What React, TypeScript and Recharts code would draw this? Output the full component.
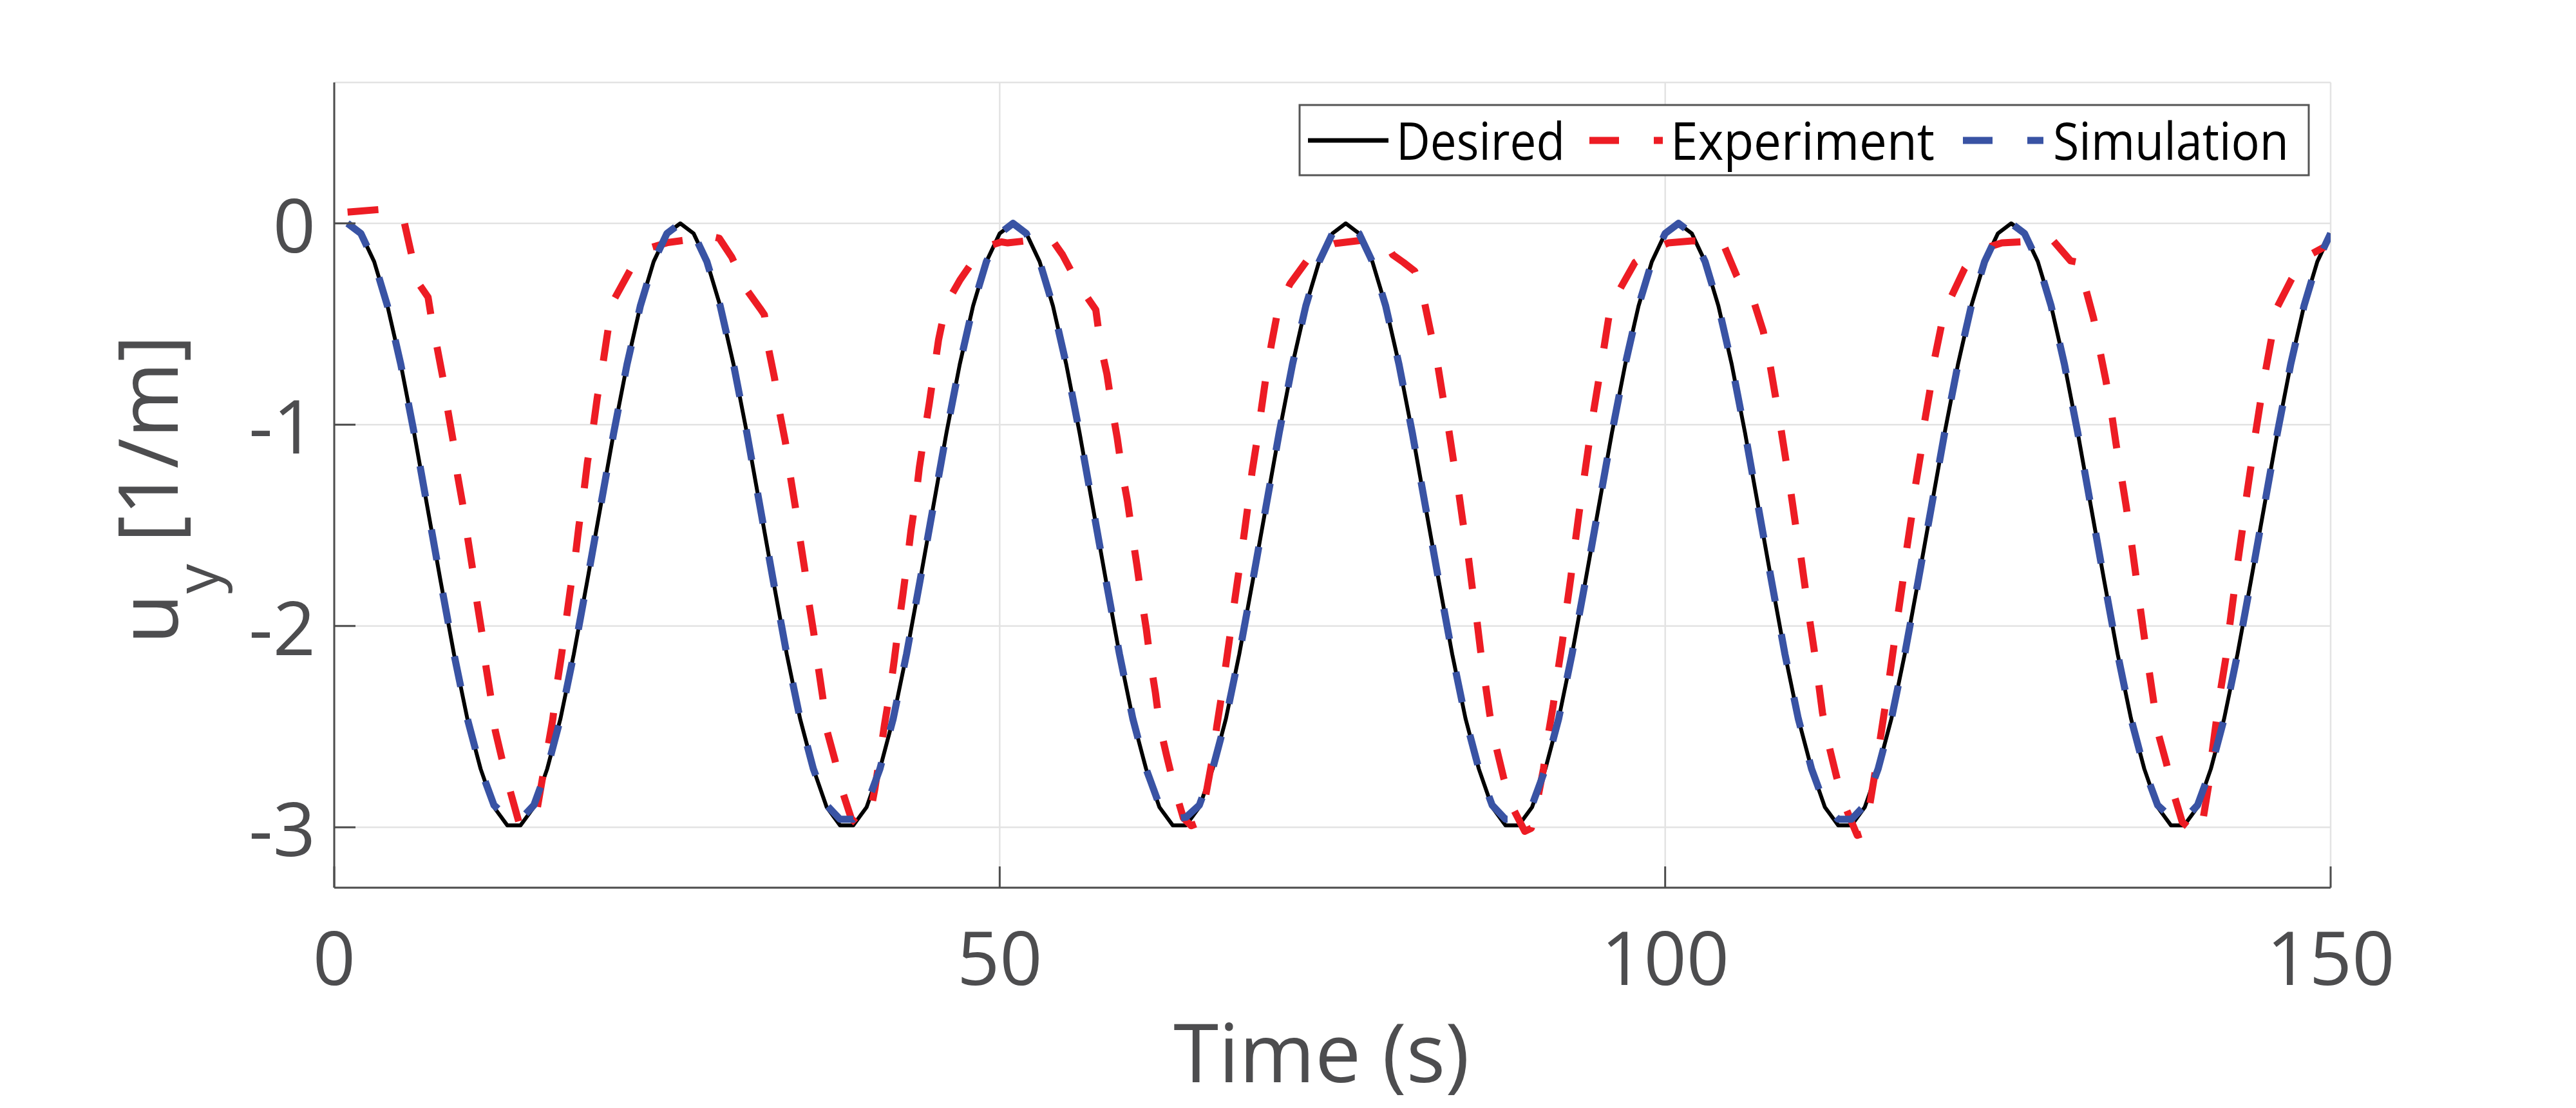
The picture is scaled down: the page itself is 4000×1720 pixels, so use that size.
import { LineChart, Line, XAxis, YAxis, CartesianGrid } from "recharts";

// axis ticks
const xTicks = [0, 50, 100, 150];
const yTicks = [0, -1, -2, -3];
const legendLabels = ["Desired", "Experiment", "Simulation"];

// desired curvature, sampled every second from t = 1 s
const desired = [
  0, -0.05, -0.19, -0.41, -0.7, -1.04, -1.41, -1.78, -2.14, -2.46, -2.71, -2.9, -2.99, -2.99, -2.9, -2.71, -2.46, -2.14, -1.78, -1.41, -1.04, -0.7, -0.41, -0.19, -0.05,
  0, -0.05, -0.19, -0.41, -0.7, -1.04, -1.41, -1.78, -2.14, -2.46, -2.71, -2.9, -2.99, -2.99, -2.9, -2.71, -2.46, -2.14, -1.78, -1.41, -1.04, -0.7, -0.41, -0.19, -0.05,
  0, -0.05, -0.19, -0.41, -0.7, -1.04, -1.41, -1.78, -2.14, -2.46, -2.71, -2.9, -2.99, -2.99, -2.9, -2.71, -2.46, -2.14, -1.78, -1.41, -1.04, -0.7, -0.41, -0.19, -0.05,
  0, -0.05, -0.19, -0.41, -0.7, -1.04, -1.41, -1.78, -2.14, -2.46, -2.71, -2.9, -2.99, -2.99, -2.9, -2.71, -2.46, -2.14, -1.78, -1.41, -1.04, -0.7, -0.41, -0.19, -0.05,
  0, -0.05, -0.19, -0.41, -0.7, -1.04, -1.41, -1.78, -2.14, -2.46, -2.71, -2.9, -2.99, -2.99, -2.9, -2.71, -2.46, -2.14, -1.78, -1.41, -1.04, -0.7, -0.41, -0.19, -0.05,
  0, -0.05, -0.19, -0.41, -0.7, -1.04, -1.41, -1.78, -2.14, -2.46, -2.71, -2.9, -2.99, -2.99, -2.9, -2.71, -2.46, -2.14, -1.78, -1.41, -1.04, -0.7, -0.41, -0.19, -0.05,
];

// simulation, same sampling as desired
const simulation = [
  0, -0.05, -0.19, -0.41, -0.7, -1.04, -1.41, -1.78, -2.14, -2.46, -2.71, -2.89, -2.95, -2.96, -2.89, -2.71, -2.46, -2.14, -1.78, -1.41, -1.04, -0.7, -0.41, -0.19, -0.05,
  0, -0.05, -0.19, -0.41, -0.7, -1.04, -1.41, -1.78, -2.14, -2.46, -2.71, -2.89, -2.96, -2.96, -2.89, -2.71, -2.46, -2.14, -1.78, -1.41, -1.04, -0.7, -0.41, -0.19, -0.05,
  0, -0.05, -0.19, -0.41, -0.7, -1.04, -1.41, -1.78, -2.14, -2.46, -2.71, -2.89, -2.96, -2.95, -2.89, -2.71, -2.46, -2.14, -1.78, -1.41, -1.04, -0.7, -0.41, -0.19, -0.05,
  0, -0.05, -0.19, -0.41, -0.7, -1.04, -1.41, -1.78, -2.14, -2.46, -2.71, -2.89, -2.96, -2.96, -2.89, -2.71, -2.46, -2.14, -1.78, -1.41, -1.04, -0.7, -0.41, -0.19, -0.05,
  0, -0.05, -0.19, -0.41, -0.7, -1.04, -1.41, -1.78, -2.14, -2.46, -2.71, -2.89, -2.96, -2.96, -2.89, -2.71, -2.46, -2.14, -1.78, -1.41, -1.04, -0.7, -0.41, -0.19, -0.05,
  0, -0.05, -0.19, -0.41, -0.7, -1.04, -1.41, -1.78, -2.14, -2.46, -2.71, -2.89, -2.95, -2.96, -2.89, -2.71, -2.46, -2.14, -1.78, -1.41, -1.04, -0.7, -0.41, -0.19, -0.05,
];

// experiment (irregular time stamps)
const expTime = [
  1.0, 3.42, 4.52, 5.27, 5.81, 6.31, 7.05, 7.26, 7.74, 8.18, 8.55, 8.95, 9.27, 9.68, 10.03, 10.4, 10.73, 11.1, 11.4, 11.77, 12.1, 12.63, 13.26, 13.87, 14.44,
  15.21, 15.61, 16.42, 16.74, 17.1, 17.42, 17.74, 18.1, 18.39, 18.74, 19.03, 19.44, 19.76, 20.16, 20.52, 20.9, 22.58, 23.71, 25.06,
  25.95, 28.37, 28.93, 29.87, 31.03, 32.0, 32.32, 32.61, 33.08, 33.45, 33.9, 34.25, 34.64, 34.98, 35.35, 35.66, 36.03, 36.35, 36.7, 37.0, 37.61, 38.21, 38.85, 39.33,
  40.22, 40.62, 41.03, 41.35, 41.77, 42.09, 42.4, 42.72, 43.04, 43.33, 43.69, 43.96, 44.33, 44.7, 45.06, 45.41, 45.96, 47.0, 48.45, 48.93, 50.12,
  50.6, 53.02, 53.91, 54.72, 55.93, 57.22, 57.57, 58.06, 58.43, 58.83, 59.18, 59.6, 59.96, 60.31, 60.65, 61.01, 61.33, 61.7, 62.02, 62.54, 63.15, 63.8, 64.39,
  65.12, 65.52, 66.01, 66.3, 66.68, 67.01, 67.35, 67.67, 68.02, 68.35, 68.67, 68.96, 69.35, 69.67, 70.02, 70.41, 70.9, 71.81, 73.27, 74.64, 75.18,
  77.7, 78.97, 79.53, 80.34, 81.18, 81.87, 82.39, 82.89, 83.28, 83.7, 84.08, 84.47, 84.81, 85.18, 85.5, 85.83, 86.13, 86.47, 86.82, 87.28, 87.86, 88.55, 89.45,
  89.94, 90.39, 90.86, 91.18, 91.58, 91.91, 92.28, 92.57, 92.91, 93.2, 93.53, 93.86, 94.21, 94.53, 94.94, 95.31, 95.7, 96.02, 96.47, 97.73, 99.37, 100.24,
  101.98, 104.11, 104.35, 105.37, 105.89, 106.61, 107.37, 107.85, 108.26, 108.66, 109.05, 109.42, 109.77, 110.16, 110.5, 110.82, 111.18, 111.5, 111.82, 112.26, 112.87, 113.5, 114.43,
  114.92, 115.35, 115.76, 116.13, 116.5, 116.85, 117.18, 117.5, 117.85, 118.14, 118.5, 118.79, 119.19, 119.48, 119.89, 120.24, 120.72, 121.05, 121.53, 122.5, 122.98, 124.11, 125.3,
  126.75, 129.17, 130.46, 131.1, 131.54, 132.19, 132.64, 133.12, 133.53, 133.88, 134.28, 134.65, 135.01, 135.33, 135.65, 135.98, 136.32, 136.67, 136.99, 137.65, 138.2, 138.85, 139.9,
  140.14, 140.38, 140.82, 141.07, 141.4, 141.72, 142.12, 142.4, 142.72, 143.01, 143.36, 143.65, 144.01, 144.33, 144.7, 145.09, 145.54, 145.95, 147.07, 147.88, 148.45, 149.6,
];
const expValue = [
  0.056, 0.069, 0.069, 0.003, -0.156, -0.296, -0.367, -0.454, -0.62, -0.773, -0.934, -1.087, -1.253, -1.406, -1.564, -1.719, -1.883, -2.036, -2.202, -2.355, -2.52, -2.668, -2.829, -2.974, -3.0,
  -2.923, -2.77, -2.464, -2.29, -2.133, -1.974, -1.819, -1.661, -1.5, -1.342, -1.184, -1.023, -0.867, -0.709, -0.551, -0.393, -0.191, -0.122, -0.095,
  -0.087, -0.066, -0.074, -0.168, -0.334, -0.423, -0.454, -0.615, -0.768, -0.934, -1.087, -1.247, -1.406, -1.561, -1.719, -1.883, -2.036, -2.196, -2.352, -2.515, -2.663, -2.827, -2.957, -2.987,
  -2.949, -2.809, -2.633, -2.487, -2.32, -2.163, -2.0, -1.847, -1.686, -1.528, -1.367, -1.214, -1.051, -0.898, -0.735, -0.577, -0.403, -0.283, -0.143, -0.117, -0.092,
  -0.097, -0.079, -0.079, -0.156, -0.306, -0.429, -0.602, -0.75, -0.913, -1.066, -1.227, -1.38, -1.546, -1.699, -1.86, -2.013, -2.179, -2.332, -2.495, -2.643, -2.809, -2.954, -2.992,
  -2.974, -2.827, -2.65, -2.503, -2.342, -2.184, -2.026, -1.867, -1.707, -1.551, -1.393, -1.235, -1.071, -0.918, -0.755, -0.602, -0.431, -0.301, -0.168, -0.112, -0.1,
  -0.08, -0.092, -0.156, -0.194, -0.237, -0.378, -0.543, -0.694, -0.855, -1.008, -1.173, -1.327, -1.487, -1.64, -1.806, -1.959, -2.122, -2.278, -2.439, -2.594, -2.753, -2.903, -3.02,
  -3.005, -2.87, -2.709, -2.554, -2.398, -2.237, -2.077, -1.921, -1.76, -1.605, -1.439, -1.286, -1.125, -0.972, -0.806, -0.656, -0.492, -0.367, -0.342, -0.194, -0.122, -0.097,
  -0.087, -0.087, -0.1, -0.26, -0.321, -0.378, -0.536, -0.691, -0.849, -1.003, -1.168, -1.324, -1.485, -1.638, -1.801, -1.954, -2.112, -2.27, -2.431, -2.582, -2.747, -2.893, -3.04,
  -3.03, -2.898, -2.732, -2.574, -2.413, -2.255, -2.099, -1.941, -1.781, -1.622, -1.464, -1.309, -1.148, -0.99, -0.832, -0.673, -0.518, -0.398, -0.36, -0.224, -0.181, -0.122, -0.097,
  -0.092, -0.087, -0.186, -0.194, -0.311, -0.472, -0.625, -0.783, -0.939, -1.097, -1.258, -1.411, -1.574, -1.73, -1.888, -2.046, -2.204, -2.36, -2.52, -2.679, -2.832, -2.974, -3.033,
  -3.033, -2.974, -2.796, -2.643, -2.477, -2.324, -2.161, -2.005, -1.844, -1.689, -1.526, -1.37, -1.209, -1.054, -0.898, -0.74, -0.577, -0.421, -0.276, -0.194, -0.156, -0.115,
];

const COLORS = {
  desired: "#000000",
  experiment: "#ed1c24",
  simulation: "#3953a4",
  axis: "#4d4d4d",
  grid: "#e3e3e3",
  text: "#4d4d4f",
};

const FONT = "'Open Sans', 'Noto Sans', sans-serif";
const TICK_LEN = 33;
const DASH = "48 52";

function BottomTick(props: any) {
  const { x, y, payload } = props;
  return (
    <g>
      <line x1={x} x2={x} y1={y} y2={y - TICK_LEN} stroke={COLORS.axis} strokeWidth={3} />
      <text x={x} y={y + 151} textAnchor="middle" fontSize={116} fontFamily={FONT} fill={COLORS.text}>
        {payload.value}
      </text>
    </g>
  );
}

function TopTick(props: any) {
  const { x, y } = props;
  return <line x1={x} x2={x} y1={y} y2={y + TICK_LEN} stroke={COLORS.axis} strokeWidth={3} />;
}

function LeftTick(props: any) {
  const { x, y, payload } = props;
  return (
    <g>
      <line x1={x} x2={x + TICK_LEN} y1={y} y2={y} stroke={COLORS.axis} strokeWidth={3} />
      <text x={x - 29} y={y + 45} textAnchor="end" fontSize={116} fontFamily={FONT} fill={COLORS.text}>
        {payload.value}
      </text>
    </g>
  );
}

function RightTick(props: any) {
  const { x, y } = props;
  return <line x1={x} x2={x - TICK_LEN} y1={y} y2={y} stroke={COLORS.axis} strokeWidth={3} />;
}

export default function App() {
  const desiredData = desired.map((v, i) => ({ t: i + 1, v }));
  const simulationData = simulation.map((v, i) => ({ t: i + 1, v }));
  const experimentData = expTime.map((t, i) => ({ t, v: expValue[i] }));

  return (
    <div style={{ position: "absolute", left: 0, top: 0, width: 4000, height: 1720, background: "#fff" }}>
      <LineChart width={4000} height={1720} margin={{ top: 128, right: 381, bottom: 0, left: 0 }}>
        <CartesianGrid stroke={COLORS.grid} strokeWidth={2.5} />
        <XAxis
          dataKey="t"
          type="number"
          domain={[0, 150]}
          ticks={xTicks}
          interval={0}
          allowDataOverflow
          height={342}
          tickSize={0}
          tickMargin={0}
          tickLine={false}
          tick={BottomTick}
          axisLine={{ stroke: COLORS.axis, strokeWidth: 3 }}
        />
        <XAxis
          xAxisId="top"
          orientation="top"
          type="number"
          domain={[0, 150]}
          ticks={xTicks}
          interval={0}
          allowDataOverflow
          height={0}
          tickSize={0}
          tickMargin={0}
          tickLine={false}
          tick={TopTick}
          axisLine={{ stroke: COLORS.axis, strokeWidth: 3 }}
        />
        <YAxis
          type="number"
          domain={[-3.3, 0.7]}
          ticks={yTicks}
          interval={0}
          allowDataOverflow
          width={519}
          tickSize={0}
          tickMargin={0}
          tickLine={false}
          tick={LeftTick}
          axisLine={{ stroke: COLORS.axis, strokeWidth: 3 }}
        />
        <YAxis
          yAxisId="right"
          orientation="right"
          type="number"
          domain={[-3.3, 0.7]}
          ticks={yTicks}
          interval={0}
          allowDataOverflow
          width={0}
          tickSize={0}
          tickMargin={0}
          tickLine={false}
          tick={RightTick}
          axisLine={{ stroke: COLORS.axis, strokeWidth: 3 }}
        />
        <Line
          data={desiredData}
          dataKey="v"
          type="linear"
          stroke={COLORS.desired}
          strokeWidth={6}
          strokeLinejoin="round"
          dot={false}
          activeDot={false}
          isAnimationActive={false}
        />
        <Line
          data={experimentData}
          dataKey="v"
          type="linear"
          stroke={COLORS.experiment}
          strokeWidth={11}
          strokeDasharray={DASH}
          strokeLinejoin="round"
          dot={false}
          activeDot={false}
          isAnimationActive={false}
        />
        <Line
          data={simulationData}
          dataKey="v"
          type="linear"
          stroke={COLORS.simulation}
          strokeWidth={11}
          strokeDasharray={DASH}
          strokeLinejoin="round"
          dot={false}
          activeDot={false}
          isAnimationActive={false}
        />
      </LineChart>

      {/* axis titles and legend box */}
      <svg width={4000} height={1720} style={{ position: "absolute", left: 0, top: 0, pointerEvents: "none" }}>
        <text x={2052} y={1680} textAnchor="middle" fontSize={127} fontFamily={FONT} fill={COLORS.text}>
          Time (s)
        </text>
        <text
          x={276}
          y={760}
          transform="rotate(-90 276 760)"
          textAnchor="middle"
          fontSize={128}
          fontFamily={FONT}
          fill={COLORS.text}
        >
          u
          <tspan fontSize={92} dy={63}>y</tspan>
          <tspan dy={-63}> [1/m]</tspan>
        </text>

        <rect x={2018} y={163} width={1567} height={109} fill="#fff" stroke="#555" strokeWidth={3} />
        <line x1={2031} x2={2156} y1={218} y2={218} stroke={COLORS.desired} strokeWidth={7} />
        <text x={2168} y={248} fontSize={80} fontFamily={FONT} textLength={262} lengthAdjust="spacingAndGlyphs">
          {legendLabels[0]}
        </text>
        <line x1={2468} x2={2582} y1={218} y2={218} stroke={COLORS.experiment} strokeWidth={11} strokeDasharray="46 54" />
        <text x={2594} y={248} fontSize={80} fontFamily={FONT} textLength={410} lengthAdjust="spacingAndGlyphs">
          {legendLabels[1]}
        </text>
        <line x1={3048} x2={3173} y1={218} y2={218} stroke={COLORS.simulation} strokeWidth={11} strokeDasharray="46 54" />
        <text x={3188} y={248} fontSize={80} fontFamily={FONT} textLength={366} lengthAdjust="spacingAndGlyphs">
          {legendLabels[2]}
        </text>
      </svg>
    </div>
  );
}
